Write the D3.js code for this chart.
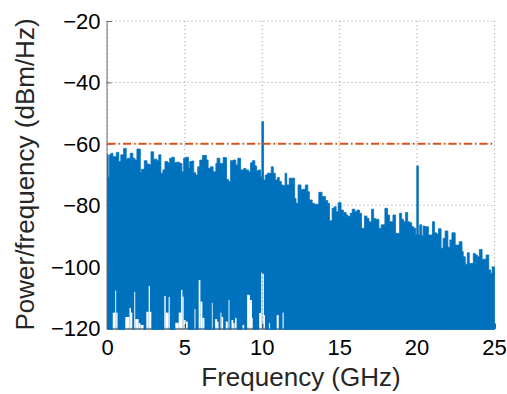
<!DOCTYPE html>
<html>
<head>
<meta charset="utf-8">
<script src="https://cdn.jsdelivr.net/npm/d3@7"></script>
<style>
  html, body { margin: 0; padding: 0; background: #fff; }
  svg { display: block; font-family: "Liberation Sans", Arial, Helvetica, sans-serif; }
</style>
</head>
<body>
<svg id="chart" width="507" height="394"></svg>
<script>
// Axis ticks
const freqTicks = [0, 5, 10, 15, 20, 25];
const powerTicks = [-120, -100, -80, -60, -40, -20];
const thresholdDb = -60;

// Upper envelope of the power spectral density (GHz, dBm/Hz), stepwise
const upperFreq = [
  0.00, 0.05, 0.13, 0.22, 0.35, 0.57, 0.73, 0.86, 1.04, 1.21, 1.30, 1.47, 1.64, 1.77, 1.90,
  2.12, 2.20, 2.38, 2.55, 2.72, 2.81, 2.98, 3.20, 3.31, 3.45, 3.58, 3.71, 3.89, 4.02, 4.15,
  4.32, 4.41, 4.67, 4.81, 4.92, 5.05, 5.23, 5.31, 5.44, 5.57, 5.70, 5.83, 5.96, 6.14, 6.39,
  6.50, 6.65, 6.82, 7.00, 7.08, 7.26, 7.47, 7.69, 7.82, 7.95, 8.12, 8.29, 8.42, 8.60, 8.81,
  8.94, 9.12, 9.24, 9.37, 9.52, 9.63, 9.76, 9.89, 9.97, 10.08, 10.19, 10.32, 10.58, 10.71, 10.84,
  10.97, 11.10, 11.23, 11.36, 11.47, 11.58, 11.74, 12.09, 12.18, 12.31, 12.50, 12.61, 12.78, 12.94, 13.04,
  13.22, 13.36, 13.65, 13.86, 14.08, 14.23, 14.34, 14.51, 14.64, 14.77, 14.90, 15.09, 15.24, 15.42, 15.53,
  15.68, 15.81, 15.98, 16.11, 16.28, 16.41, 16.60, 16.76, 16.89, 17.06, 17.19, 17.31, 17.53, 17.68, 17.92,
  18.09, 18.22, 18.44, 18.61, 18.87, 19.00, 19.13, 19.26, 19.39, 19.52, 19.65, 19.78, 19.91, 19.98, 20.08,
  20.17, 20.30, 20.39, 20.51, 20.73, 20.99, 21.12, 21.25, 21.38, 21.55, 21.68, 21.81, 21.99, 22.12, 22.25,
  22.46, 22.72, 22.90, 22.98, 23.11, 23.24, 23.37, 23.63, 23.76, 23.89, 24.02, 24.20, 24.46, 24.63, 24.76,
  24.85
];
const upperDb = [
  -63.6, -70.8, -63.6, -63.1, -64.2, -62.8, -65.8, -63.6, -61.5, -65.0, -64.7, -63.1, -64.7, -65.3, -61.7,
  -69.3, -68.3, -65.5, -66.6, -66.9, -62.6, -65.0, -65.5, -63.6, -69.6, -68.5, -65.8, -66.2, -64.7, -64.4,
  -66.2, -66.0, -66.4, -69.1, -64.7, -64.4, -68.0, -65.8, -65.6, -69.4, -70.2, -67.5, -65.3, -63.8, -65.3,
  -68.0, -67.5, -69.1, -66.4, -64.7, -66.4, -64.5, -71.6, -72.3, -65.5, -65.3, -66.9, -64.7, -68.5, -68.0,
  -68.5, -69.1, -66.2, -65.5, -67.2, -68.8, -68.5, -70.7, -52.8, -71.8, -70.2, -69.6, -67.5, -69.6, -71.8,
  -71.0, -72.3, -73.4, -73.7, -69.6, -73.4, -71.2, -77.8, -79.4, -73.4, -75.0, -74.8, -73.4, -75.6, -78.3,
  -79.4, -79.7, -75.8, -77.2, -78.5, -79.4, -85.1, -81.0, -80.5, -82.1, -79.2, -81.6, -82.4, -83.2, -83.7,
  -82.6, -81.3, -82.1, -81.6, -82.6, -87.5, -83.5, -84.3, -85.4, -81.3, -84.3, -84.6, -87.5, -86.4, -81.0,
  -83.2, -85.4, -83.2, -89.2, -82.6, -84.6, -85.4, -82.4, -85.4, -85.7, -87.0, -87.5, -89.7, -67.2, -89.7,
  -86.4, -90.0, -86.8, -87.0, -89.7, -85.4, -89.0, -89.4, -87.7, -94.0, -90.8, -88.4, -93.7, -91.3, -89.0,
  -93.0, -91.9, -95.1, -96.8, -99.2, -95.5, -99.0, -95.7, -96.2, -96.8, -94.4, -97.6, -96.2, -101.1, -102.2,
  -100.1
];

// Lower envelope where the trace minima stay above the axis floor (null: no gap)
const gapFreq = [
  0.00, 0.34, 0.50, 0.56, 0.65, 1.15, 1.42, 1.51, 1.60, 1.73, 1.79, 2.01, 2.12, 2.33, 2.51,
  2.66, 2.74, 2.83, 3.67, 3.76, 3.95, 4.02, 4.38, 4.60, 4.75, 4.84, 4.92, 5.05, 5.18, 5.62,
  5.68, 5.89, 6.00, 6.13, 6.26, 6.74, 6.78, 6.95, 7.08, 7.17, 7.30, 7.36, 7.47, 7.64, 7.77,
  7.82, 7.88, 8.01, 8.12, 8.21, 8.24, 8.34, 8.72, 8.83, 9.02, 9.20, 9.33, 9.37, 9.80, 9.93,
  10.02, 10.10, 10.17, 10.43, 10.49, 10.93, 11.06, 11.31, 11.38
];
const gapDb = [
  null, -115.0, -107.8, -115.0, null, -116.4, -113.5, -115.0, null, -108.2, -117.1, -118.4, -119.0, null, -114.7,
  -106.3, -114.7, null, -109.6, -115.0, -109.9, null, -118.3, -115.0, -107.6, -109.8, -117.4, -117.9, null, -113.8,
  null, -104.4, -111.4, -116.7, null, -111.8, null, -117.1, -117.9, null, -115.0, -116.4, null, -117.9, null,
  -110.9, null, -117.4, -118.4, null, -116.7, null, -119.0, null, -109.2, -110.9, -116.7, null, -115.1, -102.0,
  -102.4, -115.8, null, -118.4, null, -115.8, null, -115.0, null
];

const W = 507, H = 394;
const svg = d3.select("#chart");

const x = d3.scaleLinear().domain([0, 25]).range([107.5, 494.5]);
const y = d3.scaleLinear().domain([-120, -20]).range([328, 21]);

const blue = "#0072BD";
const orange = "#D95319";
const gridColor = "#9a9a9a";
const axisColor = "#6a6a6a";

// Dotted grid
const grid = svg.append("g");
grid.selectAll("line.vg").data(freqTicks).join("line")
  .attr("x1", d => x(d)).attr("x2", d => x(d))
  .attr("y1", y(-20)).attr("y2", y(-120))
  .attr("stroke", gridColor).attr("stroke-width", 1)
  .attr("stroke-dasharray", "1,3");
grid.selectAll("line.hg").data(powerTicks).join("line")
  .attr("y1", d => y(d)).attr("y2", d => y(d))
  .attr("x1", x(0)).attr("x2", x(25))
  .attr("stroke", gridColor).attr("stroke-width", 1)
  .attr("stroke-dasharray", "1,3");

// Axes (drawn beneath the trace)
const yAxis = d3.axisLeft(y).tickValues(powerTicks).tickSize(-5).tickFormat(() => "");
svg.append("g").attr("transform", `translate(${x(0) - 1},0)`).call(yAxis)
  .call(g => g.select(".domain").attr("stroke", axisColor))
  .call(g => g.selectAll(".tick line").attr("stroke", axisColor));
const xAxis = d3.axisBottom(x).tickValues(freqTicks).tickSize(-5).tickFormat(() => "");
svg.append("g").attr("transform", `translate(0,${y(-120) + 0.5})`).call(xAxis)
  .call(g => g.select(".domain").attr("stroke", "#222"))
  .call(g => g.selectAll(".tick line").attr("stroke", "#222"));

// Gap mask: white keeps the trace, black cuts the gaps above the floor
const defs = svg.append("defs");
const mask = defs.append("mask").attr("id", "gapMask")
  .attr("maskUnits", "userSpaceOnUse")
  .attr("x", 0).attr("y", 0).attr("width", W).attr("height", H);
mask.append("rect").attr("x", 0).attr("y", 0).attr("width", W).attr("height", H).attr("fill", "white");
const gaps = gapFreq.map((f, i) => ({ f0: f, f1: gapFreq[i + 1], v: gapDb[i] }))
  .filter(d => d.v !== null && d.f1 !== undefined);
mask.selectAll("rect.gap").data(gaps).join("rect")
  .attr("x", d => x(d.f0))
  .attr("width", d => Math.max(0.8, x(d.f1) - x(d.f0)))
  .attr("y", d => y(d.v))
  .attr("height", d => y(-120) + 3 - y(d.v))
  .attr("fill", "black");

// Spectrum trace, filled from the floor to the upper envelope
const trace = upperFreq.map((f, i) => ({ f, v: upperDb[i] }));
trace.push({ f: 25, v: upperDb[upperDb.length - 1] });
const area = d3.area()
  .x(d => x(d.f))
  .y0(y(-120) + 1.5)
  .y1(d => y(d.v))
  .curve(d3.curveStepAfter);
svg.append("path")
  .datum(trace)
  .attr("d", area)
  .attr("fill", blue)
  .attr("stroke", blue)
  .attr("stroke-width", 0.8)
  .attr("mask", "url(#gapMask)");

// Threshold line
svg.append("line")
  .attr("x1", x(0)).attr("x2", x(25))
  .attr("y1", y(thresholdDb)).attr("y2", y(thresholdDb))
  .attr("stroke", orange).attr("stroke-width", 2)
  .attr("stroke-dasharray", "8,3,1.5,3");

// Tick labels
const fmt = d => (d < 0 ? "\u2212" + Math.abs(d) : String(d));
svg.append("g").selectAll("text").data(powerTicks).join("text")
  .attr("x", x(0) - 7)
  .attr("y", d => y(d))
  .attr("dy", "0.36em")
  .attr("text-anchor", "end")
  .attr("font-size", 22)
  .attr("fill", "#000")
  .text(fmt);
svg.append("g").selectAll("text").data(freqTicks).join("text")
  .attr("x", d => x(d))
  .attr("y", 355)
  .attr("text-anchor", "middle")
  .attr("font-size", 22)
  .attr("fill", "#000")
  .text(fmt);

// Axis titles
svg.append("text")
  .attr("x", (x(0) + x(25)) / 2)
  .attr("y", 386)
  .attr("text-anchor", "middle")
  .attr("font-size", 26)
  .attr("fill", "#262626")
  .text("Frequency (GHz)");
svg.append("text")
  .attr("transform", `translate(34,${(y(-20) + y(-120)) / 2}) rotate(-90)`)
  .attr("text-anchor", "middle")
  .attr("font-size", 26)
  .attr("fill", "#262626")
  .text("Power/frequency (dBm/Hz)");
</script>
</body>
</html>
